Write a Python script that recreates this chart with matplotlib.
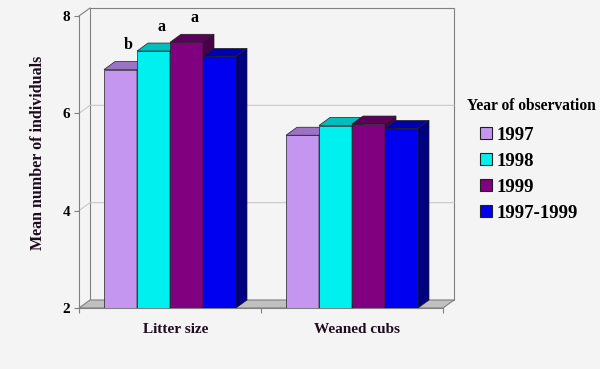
import matplotlib
matplotlib.use('Agg')
import matplotlib.pyplot as plt
from matplotlib.patches import Polygon, Patch, Rectangle

# ---------------- data ----------------
categories = ['Litter size', 'Weaned cubs']
series = ['1997', '1998', '1999', '1997-1999']
values_1997 = [6.9, 5.55]
values_1998 = [7.28, 5.75]
values_1999 = [7.46, 5.78]
values_1997_1999 = [7.17, 5.69]
letters_litter = ['b', 'a', 'a', '']
y_ticks = [2, 4, 6, 8]
legend_title = 'Year of observation'
y_label = 'Mean number of individuals'

# ---------------- style ----------------
front_colors = ['#C496F0', '#00F0F0', '#800080', '#0000F0']
top_colors = ['#9C72C6', '#00BEBE', '#5C005C', '#0000B0']
side_colors = ['#7C58A4', '#009A9A', '#480048', '#000080']
BG = '#F4F4F4'
FRAME = '#808080'
GRID = '#C8C8C8'
TXT = '#1C0C1C'
SERIF = ['Liberation Serif', 'DejaVu Serif']

plt.rcParams['font.family'] = SERIF
plt.rcParams['font.weight'] = 'bold'

W, H = 600, 369
fig = plt.figure(figsize=(W / 100, H / 100), dpi=100, facecolor=BG)
L, R, B, T = 79, 443, 308, 16
ax = fig.add_axes([L / W, 1 - B / H, (R - L) / W, (B - T) / H])
ncat = len(categories)
ymin, ymax = y_ticks[0], y_ticks[-1]
ax.set_xlim(0, ncat)
ax.set_ylim(ymin, ymax)
ax.patch.set_alpha(0)

# 3-D depth offset (pixels -> data units)
DPX, DPY = 11, 8
dx = DPX / (R - L) * ncat
dy = DPY / (B - T) * (ymax - ymin)

# back wall
ax.add_patch(Rectangle((dx, ymin + dy), ncat, ymax - ymin, facecolor=BG,
                       edgecolor=FRAME, lw=0.8, clip_on=False, zorder=0))
for v in y_ticks[1:-1]:
    ax.plot([0, dx, ncat + dx], [v, v + dy, v + dy], color=GRID, lw=0.8,
            clip_on=False, zorder=0.5)
# top edge of left wall
ax.plot([0, dx], [ymax, ymax + dy], color=FRAME, lw=0.8, clip_on=False, zorder=0.6)
# floor
ax.add_patch(Polygon([(0, ymin), (ncat, ymin), (ncat + dx, ymin + dy), (dx, ymin + dy)],
                     closed=True, facecolor='#C0C0C0', edgecolor=FRAME, lw=0.8,
                     clip_on=False, zorder=1))

# bars
all_vals = [values_1997, values_1998, values_1999, values_1997_1999]
nser = len(series)
bw = 33 / ((R - L) / ncat)
EDGE = '#202020'
for c in range(ncat):
    for i in range(nser):
        z = 3 + c * 10 + i
        x0 = c + 0.5 + (i - nser / 2) * bw
        v = all_vals[i][c]
        ax.bar(x0, v - ymin, width=bw, bottom=ymin, align='edge',
               color=front_colors[i], edgecolor=EDGE, lw=0.5, zorder=z)
        ax.add_patch(Polygon([(x0, v), (x0 + bw, v), (x0 + bw + dx, v + dy), (x0 + dx, v + dy)],
                             closed=True, facecolor=top_colors[i], edgecolor=EDGE,
                             lw=0.5, zorder=z + 0.1, clip_on=False))
        ax.add_patch(Polygon([(x0 + bw, ymin), (x0 + bw + dx, ymin + dy),
                              (x0 + bw + dx, v + dy), (x0 + bw, v)],
                             closed=True, facecolor=side_colors[i], edgecolor=EDGE,
                             lw=0.5, zorder=z + 0.2, clip_on=False))
        if c == 0 and letters_litter[i]:
            ax.annotate(letters_litter[i], xy=(x0 + bw / 2, v), xytext=(5.8, 17.5),
                        textcoords='offset points', ha='center', va='center',
                        fontsize=11.5, fontweight='bold', color='black', zorder=40)

# category labels
for c, lab in enumerate(categories):
    ax.annotate(lab, xy=(c + 0.5 + dx / 2, ymin), xytext=(0, -18), textcoords='offset points',
                ha='center', va='baseline', fontsize=11, fontweight='bold', color=TXT)

# axes / spines
for s in ['top', 'right']:
    ax.spines[s].set_visible(False)
for s in ['left', 'bottom']:
    ax.spines[s].set_color(FRAME)
    ax.spines[s].set_linewidth(0.8)
    ax.spines[s].set_zorder(2)
ax.set_yticks(y_ticks)
ax.set_yticklabels([str(t) for t in y_ticks])
ax.set_xticks(range(ncat + 1))
ax.set_xticklabels([])
ax.tick_params(axis='y', direction='out', length=3.6, width=0.8, color=FRAME, pad=2.9,
               labelsize=11, labelcolor='black')
ax.tick_params(axis='x', direction='out', length=3.6, width=0.8, color=FRAME)
for lbl in ax.get_yticklabels():
    lbl.set_fontweight('bold')

fig.text(38 / W, 1 - 153 / H, y_label, rotation=90, ha='center', va='center',
         fontsize=11.5, fontweight='bold', color=TXT)

# legend
fig.text(531 / W, 1 - 106 / H, legend_title, ha='center', va='center',
         fontsize=11.2, fontweight='bold', color='black')
handles = [Patch(facecolor=front_colors[i], edgecolor=EDGE, lw=0.8) for i in range(nser)]
leg = fig.legend(handles, series, loc='upper left', bbox_to_anchor=(480 / W, 1 - 127 / H),
                 frameon=False,
                 prop={'family': SERIF, 'weight': 'bold', 'size': 13.5},
                 handlelength=0.62, handleheight=0.62, handletextpad=0.28,
                 labelspacing=0.48, borderpad=0, borderaxespad=0)
for t in leg.get_texts():
    t.set_color('black')

fig.savefig('out.png', dpi=100, facecolor=BG)
